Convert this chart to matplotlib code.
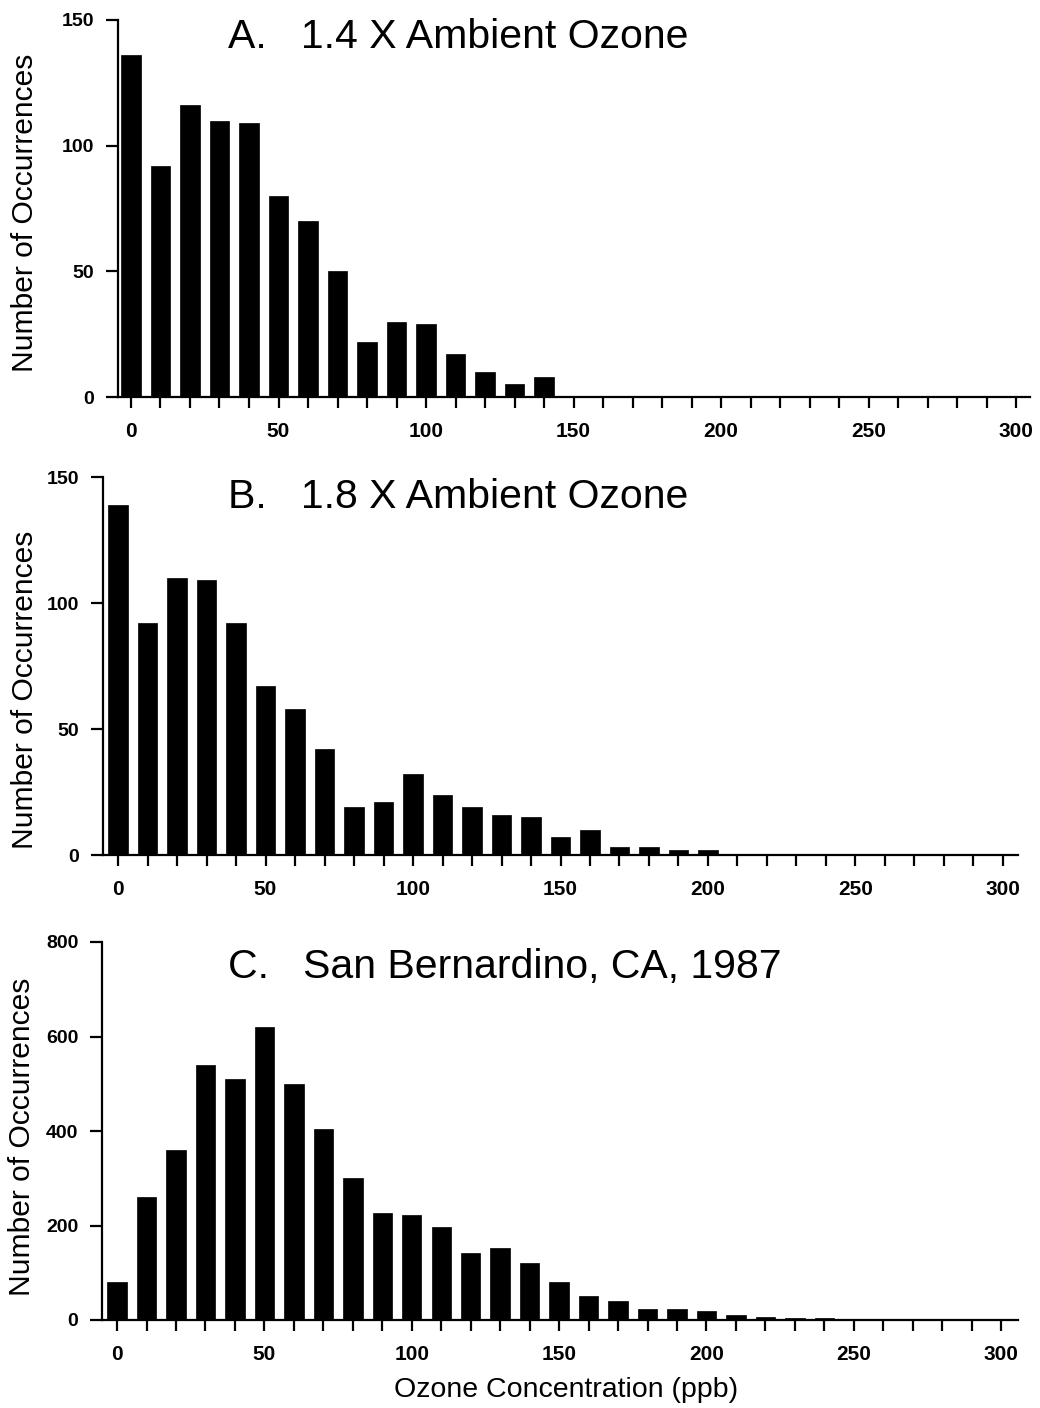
import matplotlib
matplotlib.use("Agg")
import matplotlib.pyplot as plt
import numpy as np

plt.rcParams['font.family'] = ['Liberation Sans', 'DejaVu Sans']

# Data (ozone concentration bins, ppb) and occurrence counts
bins_a = [0, 10, 20, 30, 40, 50, 60, 70, 80, 90, 100, 110, 120, 130, 140]
counts_a = [136, 92, 116, 110, 109, 80, 70, 50, 22, 30, 29, 17, 10, 5, 8]

bins_b = [0, 10, 20, 30, 40, 50, 60, 70, 80, 90, 100, 110, 120, 130, 140,
          150, 160, 170, 180, 190, 200]
counts_b = [139, 92, 110, 109, 92, 67, 58, 42, 19, 21, 32, 24, 19, 16, 15,
            7, 10, 3, 3, 2, 2]

bins_c = [0, 10, 20, 30, 40, 50, 60, 70, 80, 90, 100, 110, 120, 130, 140,
          150, 160, 170, 180, 190, 200, 210, 220, 230, 240]
counts_c = [80, 260, 360, 540, 510, 620, 500, 405, 300, 226, 222, 196, 142, 152, 121,
            80, 50, 40, 24, 24, 20, 10, 7, 4, 4]

titles = ["A.   1.4 X Ambient Ozone", "B.   1.8 X Ambient Ozone",
          "C.   San Bernardino, CA, 1987"]
x_ticks = [0, 50, 100, 150, 200, 250, 300]
y_ticks_ab = [0, 50, 100, 150]
y_ticks_c = [0, 200, 400, 600, 800]

W, H = 1040, 1408
fig = plt.figure(figsize=(W / 100, H / 100), dpi=100)

def px_axes(left, right, top, bottom):
    return fig.add_axes([left / W, 1 - bottom / H, (right - left) / W, (bottom - top) / H])

axA = px_axes(118, 1030, 20, 397)
axB = px_axes(103, 1018, 477, 855)
axC = px_axes(102, 1018, 942, 1320)

specs = [
    (axA, bins_a, counts_a, (-4.4, 304.7), (0, 150), y_ticks_ab),
    (axB, bins_b, counts_b, (-5.1, 305.1), (0, 150), y_ticks_ab),
    (axC, bins_c, counts_c, (-5.1, 305.7), (0, 800), y_ticks_c),
]

for ax, bx, cy, xl, yl, yt in specs:
    ax.bar(bx, cy, width=6.6, color='black', edgecolor='black', linewidth=0.5)
    ax.set_xlim(*xl)
    ax.set_ylim(*yl)
    ax.set_xticks(x_ticks)
    ax.set_xticks(np.arange(0, 301, 10), minor=True)
    ax.set_yticks(yt)
    ax.spines['top'].set_visible(False)
    ax.spines['right'].set_visible(False)
    for s in ['left', 'bottom']:
        ax.spines[s].set_linewidth(1.6)
    ax.tick_params(axis='x', which='both', direction='out', length=8, width=1.6, pad=10)
    ax.tick_params(axis='y', which='major', direction='out', length=9, width=1.6, pad=8)
    for lab in ax.get_xticklabels():
        lab.set_fontsize(15)
        lab.set_fontweight('bold')
    for lab in ax.get_yticklabels():
        lab.set_fontsize(14)
        lab.set_fontweight('bold')

# Titles
title_y = [37, 497, 967]
for t, ty in zip(titles, title_y):
    fig.text(228 / W, 1 - ty / H, t, fontsize=29.5, ha='left', va='center')

# Y labels
ylab_pos = [(25, 213), (25, 690), (22, 1137)]
for (xx, yy) in ylab_pos:
    fig.text(xx / W, 1 - yy / H, "Number of Occurrences", fontsize=21.6,
             rotation=90, ha='center', va='center')

# X label
fig.text(566 / W, 1 - 1390 / H, "Ozone Concentration (ppb)", fontsize=20.5,
         ha='center', va='center')

fig.savefig("out.png", dpi=100)
